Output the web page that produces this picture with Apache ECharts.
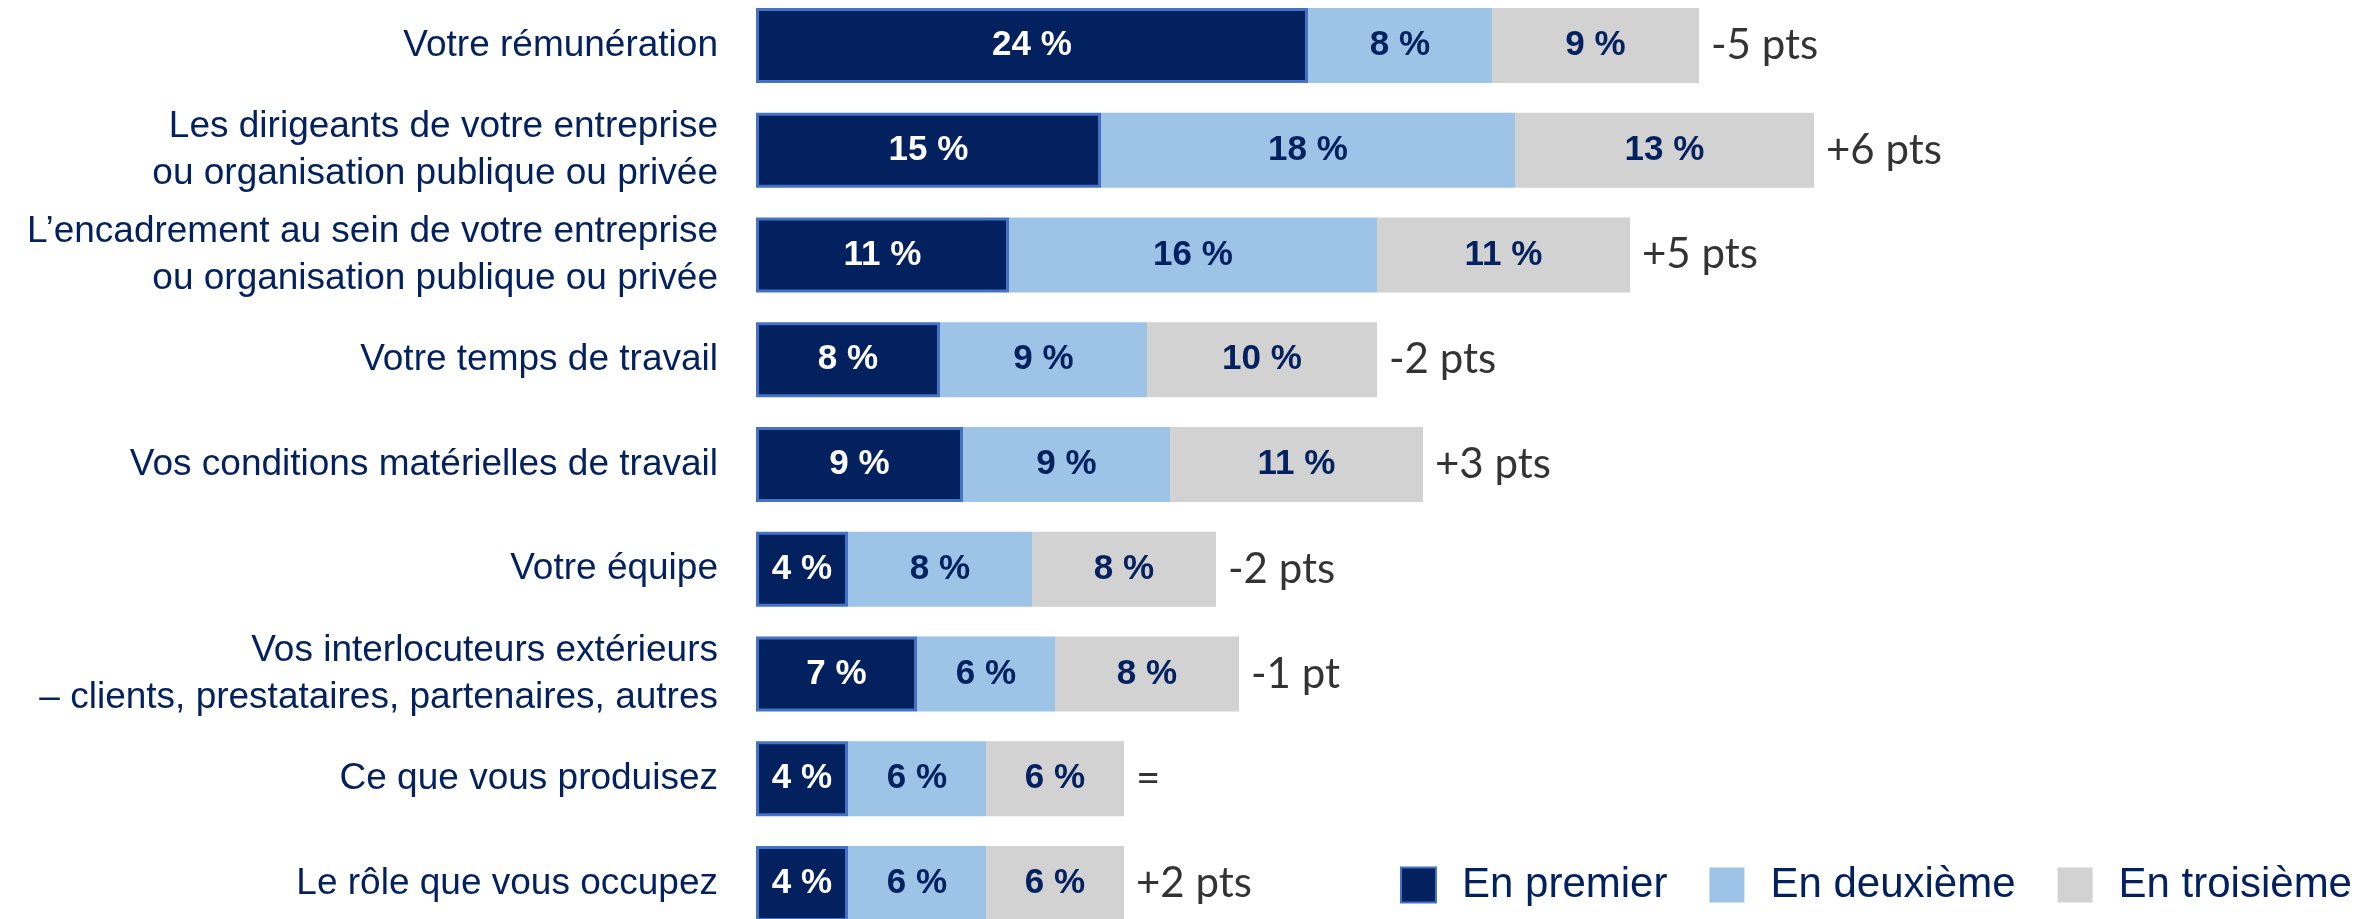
<!DOCTYPE html>
<html>
<head>
<meta charset="utf-8">
<script src="https://cdn.jsdelivr.net/npm/echarts@6/dist/echarts.min.js"></script>
<style>
  html, body { margin: 0; padding: 0; background: #fff; }
  #chart { width: 2369px; height: 919px; }
</style>
</head>
<body>
<div id="chart"></div>
<script>
// categories, top to bottom
const categories = [
  'Votre rémunération',
  'Les dirigeants de votre entreprise\nou organisation publique ou privée',
  'L\u2019encadrement au sein de votre entreprise\nou organisation publique ou privée',
  'Votre temps de travail',
  'Vos conditions matérielles de travail',
  'Votre équipe',
  'Vos interlocuteurs extérieurs\n\u2013 clients, prestataires, partenaires, autres',
  'Ce que vous produisez',
  'Le rôle que vous occupez'
];
const premier   = [24, 15, 11, 8, 9, 4, 7, 4, 4];
const deuxieme  = [8, 18, 16, 9, 9, 8, 6, 6, 6];
const troisieme = [9, 13, 11, 10, 11, 8, 8, 6, 6];
const evolution = ['-5 pts', '+6 pts', '+5 pts', '-2 pts', '+3 pts', '-2 pts', '-1 pt', '=', '+2 pts'];
const seriesNames = ['En premier', 'En deuxième', 'En troisième'];

const navy = '#03215f';

const chart = echarts.init(document.getElementById('chart'));

function barSeries(name, data, color, textColor, border) {
  return {
    name: name,
    type: 'bar',
    stack: 'total',
    barWidth: 75,
    data: data,
    itemStyle: {
      color: color,
      borderColor: border ? '#4472c4' : color,
      borderWidth: border ? 3 : 0
    },
    label: {
      show: true,
      position: 'inside',
      formatter: p => p.value + ' %',
      color: textColor,
      fontFamily: 'Liberation Sans, Arial, sans-serif',
      fontWeight: 'bold',
      fontSize: 35
    },
    emphasis: { disabled: true }
  };
}

// end of each stack, used to place the evolution text
const totals = premier.map((v, i) => v + deuxieme[i] + troisieme[i]);

chart.setOption({
  animation: false,
  grid: { left: 756, right: 3, top: -7, height: 943, containLabel: false, outerBoundsMode: 'none' },
  xAxis: {
    type: 'value',
    min: 0,
    max: 70,
    show: false
  },
  yAxis: {
    type: 'category',
    inverse: true,
    data: categories,
    axisLine: { show: false },
    axisTick: { show: false },
    splitLine: { show: false },
    axisLabel: {
      margin: 38,
      color: navy,
      fontFamily: 'Liberation Sans, Arial, sans-serif',
      fontSize: 37,
      lineHeight: 47,
      align: 'right'
    }
  },
  legend: {
    left: 1395,
    top: 859,
    itemWidth: 35,
    itemHeight: 35,
    itemGap: 42,
    icon: 'rect',
    data: seriesNames,
    textStyle: {
      color: navy,
      fontFamily: 'Liberation Sans, Arial, sans-serif',
      fontSize: 42,
      padding: [0, 0, 0, 21]
    }
  },
  series: [
    barSeries(seriesNames[0], premier, '#03205f', '#ffffff', true),
    barSeries(seriesNames[1], deuxieme, '#9dc3e6', navy, false),
    barSeries(seriesNames[2], troisieme, '#d2d2d2', navy, false),
    {
      name: 'evolution',
      type: 'scatter',
      symbolSize: 0,
      data: totals.map((t, i) => [t, i]),
      label: {
        show: true,
        position: 'right',
        distance: 12,
        formatter: p => evolution[p.dataIndex],
        color: '#000',
        fontFamily: 'Lato, Open Sans, sans-serif',
        fontSize: 42
      },
      emphasis: { disabled: true },
      silent: true
    }
  ]
});
</script>
</body>
</html>
